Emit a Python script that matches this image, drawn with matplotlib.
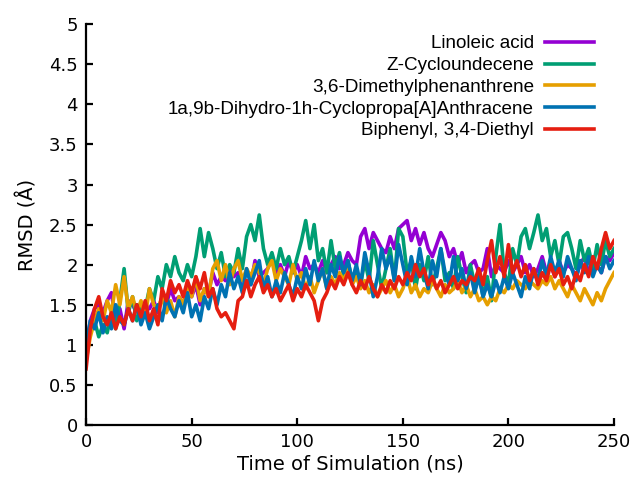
import numpy as np
import matplotlib
matplotlib.use("Agg")
import matplotlib.pyplot as plt

# simulation time, every 2 ns
time_ns = np.arange(0, 251, 2)

labels = ["Linoleic acid", "Z-Cycloundecene", "3,6-Dimethylphenanthrene",
          "1a,9b-Dihydro-1h-Cyclopropa[A]Anthracene", "Biphenyl, 3,4-Diethyl"]
colors = ["#9400d3", "#009e73", "#e69f00", "#0072b2", "#e51e10"]

# RMSD values (Angstrom)
linoleic = [
    0.95, 1.3, 1.45, 1.5, 1.4, 1.55, 1.65, 1.3, 1.45, 1.2,
    1.55, 1.5, 1.4, 1.3, 1.5, 1.45, 1.55, 1.4, 1.6, 1.5,
    1.7, 1.55, 1.6, 1.5, 1.7, 1.6, 1.75, 1.5, 1.7, 1.65,
    1.9, 1.75, 1.85, 1.8, 1.95, 1.85, 1.9, 1.7, 1.8, 1.75,
    2.05, 1.85, 1.9, 1.95, 2.1, 1.9, 2.0, 1.85, 2.05, 1.9,
    2.0, 1.85, 2.1, 1.95, 2.0, 1.9, 2.05, 1.9, 2.0, 2.1,
    1.95, 2.0, 2.15, 2.05, 2.0, 2.35, 2.45, 2.2, 2.4, 2.3,
    2.2, 2.15, 2.35, 2.2, 2.45, 2.5, 2.55, 2.3, 2.45, 2.25,
    2.4, 2.2, 2.1, 2.25, 2.4, 2.3, 2.1, 2.2, 2.0, 2.15,
    1.9, 2.0, 2.05, 1.9, 1.95, 2.2, 1.85, 2.0, 1.95, 1.9,
    2.05, 1.9, 2.0, 2.1, 1.9, 2.0, 1.85, 1.95, 2.1, 1.9,
    2.0, 1.85, 2.05, 1.9, 2.0, 1.95, 1.85, 2.0, 2.1, 1.9,
    1.95, 2.0, 1.9, 2.1, 2.05, 2.15]

cycloundecene = [
    1.0, 1.15, 1.3, 1.1, 1.25, 1.15, 1.4, 1.2, 1.55, 1.95,
    1.4, 1.6, 1.3, 1.5, 1.45, 1.7, 1.55, 1.85, 1.7, 2.0,
    1.85, 2.1, 1.9, 1.8, 2.0, 1.85, 2.1, 2.45, 2.1, 2.4,
    2.2, 1.95, 2.15, 1.85, 2.0, 1.9, 2.2, 1.95, 2.35, 2.5,
    2.3, 2.62, 2.2, 2.0, 2.15, 1.95, 2.2, 2.0, 2.1, 1.9,
    2.1, 2.3, 2.55, 2.2, 2.5, 2.05, 2.2, 1.9, 2.3, 1.95,
    2.15, 1.85, 2.05, 1.8, 1.9, 1.75, 2.05, 1.8, 2.3, 2.0,
    1.7, 1.95, 2.2, 1.8, 2.45, 2.35, 1.9, 2.05, 1.7, 2.0,
    1.8, 2.1, 1.75, 1.95, 2.2, 1.8, 1.9, 1.7, 2.1, 1.85,
    1.65, 2.0, 1.75, 1.9, 1.6, 1.85, 1.55, 2.1, 2.5, 1.9,
    1.75, 2.2, 2.0, 2.35, 2.45, 2.2, 2.4, 2.62, 2.3, 2.45,
    2.1, 2.3, 2.0, 2.35, 2.4, 2.2, 1.95, 2.3, 2.05, 2.2,
    1.95, 2.25, 2.0, 2.3, 2.1, 2.2]

dimethylphen = [
    0.8, 1.1, 1.3, 1.45, 1.3, 1.55, 1.4, 1.75, 1.5, 1.85,
    1.45, 1.6, 1.4, 1.55, 1.35, 1.7, 1.5, 1.45, 1.6, 1.4,
    1.55, 1.35, 1.6, 1.5, 1.75, 1.6, 1.85, 1.55, 1.7, 1.6,
    1.95, 2.05, 1.8, 2.0, 1.75, 1.95, 2.05, 1.8, 1.95, 1.85,
    2.0, 1.9, 1.75, 1.95, 2.05, 1.8, 1.95, 1.85, 1.75, 2.0,
    1.8, 1.9, 1.7, 1.85, 1.65, 1.8, 1.95, 1.7, 1.85, 1.75,
    1.9, 1.8, 1.95, 1.75, 1.85, 1.7, 1.8, 1.65, 1.75, 1.6,
    1.7, 1.8, 1.65, 1.75, 1.6, 1.7, 1.85, 1.65, 1.75, 1.6,
    1.7, 1.65, 1.8, 1.7, 1.6, 1.75, 1.65, 1.7, 1.8, 1.65,
    1.75, 1.6, 1.7, 1.55, 1.6, 1.5, 1.6, 1.55, 1.7, 1.65,
    1.75, 1.7, 1.8, 1.75, 1.7, 1.8, 1.75, 1.7, 1.8, 1.75,
    1.85, 1.7, 1.8, 1.7, 1.6, 1.75, 1.65, 1.55, 1.7, 1.6,
    1.5, 1.65, 1.55, 1.7, 1.8, 1.9]

dihydro = [
    1.0, 1.3, 1.2, 1.4, 1.15, 1.35, 1.2, 1.5, 1.3, 1.25,
    1.45, 1.3, 1.5, 1.25, 1.4, 1.2, 1.35, 1.5, 1.3, 1.6,
    1.45, 1.35, 1.55, 1.4, 1.65, 1.35, 1.5, 1.3, 1.6, 1.45,
    1.7, 1.5, 1.75, 1.6, 1.9, 1.7, 1.85, 1.65, 1.95, 1.75,
    1.9, 2.05, 1.7, 1.85, 1.6, 1.8, 1.65, 1.9, 1.75, 1.6,
    1.85, 1.7, 1.95, 1.75, 2.05, 1.8, 1.95, 1.7, 2.0, 1.85,
    2.1, 1.9, 2.05, 1.8, 2.0, 1.75, 2.15, 1.9, 1.6, 1.85,
    2.2, 1.95, 2.1, 1.8, 2.25, 2.0, 1.75, 2.1, 1.85, 2.2,
    1.9, 1.7, 2.05, 1.85, 2.2, 1.9, 1.75, 2.1, 1.8, 1.95,
    1.7, 1.9, 1.65, 1.85, 1.6, 1.75, 1.6, 1.8, 1.65, 1.85,
    1.7, 1.9, 1.75, 1.6, 1.85, 1.7, 1.95, 1.8, 2.05, 1.85,
    2.1, 1.9, 2.05, 1.85, 2.1, 1.95, 1.8, 2.05, 1.9, 2.1,
    1.85, 2.0, 1.9, 2.1, 1.95, 2.05]

biphenyl = [
    0.7, 1.2, 1.45, 1.6, 1.35, 1.25, 1.4, 1.2, 1.35, 1.25,
    1.45, 1.3, 1.5, 1.35, 1.55, 1.3, 1.45, 1.25, 1.7, 1.55,
    1.8, 1.65, 1.75, 1.6, 1.8, 1.65, 1.85, 1.7, 1.9, 1.6,
    1.7, 1.45, 1.35, 1.4, 1.3, 1.2, 1.55, 1.6, 1.8, 1.6,
    1.75, 1.85, 1.65, 1.75, 1.6, 1.7, 1.55, 1.65, 1.75, 1.55,
    1.7, 1.6, 1.75, 1.65, 1.55, 1.3, 1.55, 1.65, 1.8, 1.7,
    1.85, 1.75, 1.9, 1.75, 1.65, 1.8, 1.7, 1.85, 1.7, 1.6,
    1.75, 1.65, 1.8, 1.7, 1.85, 1.75, 1.9, 1.8, 2.0, 1.85,
    1.95, 1.75, 1.85, 1.7, 1.8, 1.65, 1.75, 1.85, 1.7, 1.8,
    1.75, 1.85, 1.8, 1.95, 1.75, 2.05, 2.3, 1.9, 2.1, 1.85,
    2.25, 1.9, 2.05, 1.85, 2.0, 1.8, 1.95, 1.75, 1.9, 1.8,
    2.0, 1.85, 1.95, 1.75, 1.85, 1.7, 1.9, 1.8, 2.0, 1.85,
    2.1, 1.95, 2.2, 2.4, 2.2, 2.3]

series = [linoleic, cycloundecene, dimethylphen, dihydro, biphenyl]

fig = plt.figure(figsize=(6.33, 4.84), dpi=100)
ax = fig.add_axes([0.136, 0.122, 0.834, 0.828])

for vals, lab, col in zip(series, labels, colors):
    ax.plot(time_ns, vals, color=col, lw=2.6, label=lab)

ax.set_xlim(0, 250)
ax.set_ylim(0, 5)
ax.set_xticks([0, 50, 100, 150, 200, 250])
ax.set_yticks(np.arange(0, 5.01, 0.5))
ax.set_yticklabels(["0", "0.5", "1", "1.5", "2", "2.5", "3", "3.5", "4", "4.5", "5"])

ax.spines["top"].set_visible(False)
ax.spines["right"].set_visible(False)
ax.spines["left"].set_linewidth(1.6)
ax.spines["bottom"].set_linewidth(1.6)
ax.tick_params(direction="in", length=5, width=1.6, labelsize=13, pad=6)

ax.set_xlabel("Time of Simulation (ns)", fontsize=14, labelpad=2)
ax.set_ylabel("RMSD (Å)", fontsize=14, labelpad=8)

ax.legend(loc="upper right", bbox_to_anchor=(0.995, 1.015), frameon=False,
          markerfirst=False, handlelength=2.6, handletextpad=0.6,
          labelspacing=0.24, prop={"family": "Liberation Sans", "size": 13.6})

plt.savefig("out.png", dpi=100)
